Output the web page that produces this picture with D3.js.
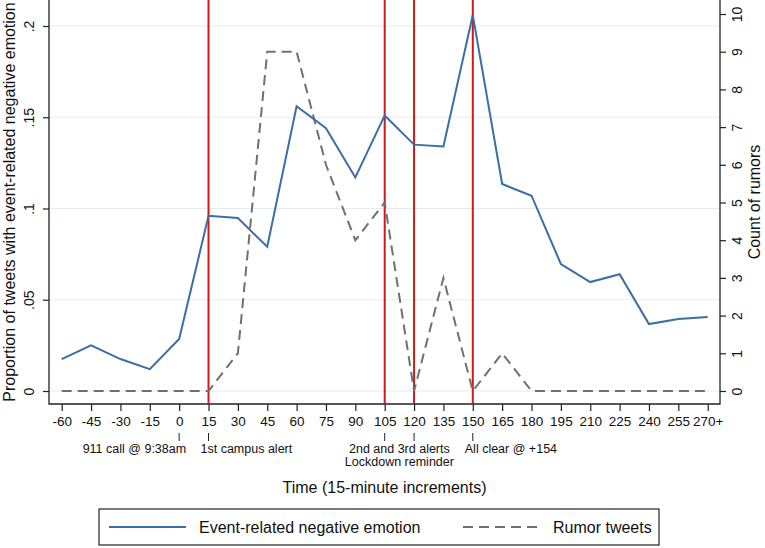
<!DOCTYPE html>
<html>
<head>
<meta charset="utf-8">
<script src="https://cdn.jsdelivr.net/npm/d3@7"></script>
<style>
  body { margin: 0; background: #fff; }
  svg { display: block; font-family: "Liberation Sans", Arial, sans-serif; }
</style>
</head>
<body>
<div id="chart"></div>
<script>
// time bins (minutes relative to 911 call)
const times = [-60, -45, -30, -15, 0, 15, 30, 45, 60, 75, 90, 105, 120, 135, 150, 165, 180, 195, 210, 225, 240, 255, 270];
const tickLabels = ['-60', '-45', '-30', '-15', '0', '15', '30', '45', '60', '75', '90', '105', '120', '135', '150', '165', '180', '195', '210', '225', '240', '255', '270+'];
const negEmotion = [0.0175, 0.025, 0.0175, 0.012, 0.0285, 0.096, 0.0948, 0.079, 0.156, 0.144, 0.117, 0.151, 0.135, 0.134, 0.206, 0.1134, 0.107, 0.0696, 0.0597, 0.064, 0.0367, 0.0395, 0.0405];
const rumors = [0, 0, 0, 0, 0, 0, 1, 9, 9, 6, 4, 5, 0, 3, 0, 1, 0, 0, 0, 0, 0, 0, 0];
const leftTicks = [0, 0.05, 0.1, 0.15, 0.2];
const leftTickLabels = ['0', '.05', '.1', '.15', '.2'];
const rightTicks = [0, 1, 2, 3, 4, 5, 6, 7, 8, 9, 10];
const eventTimes = [15, 105, 120, 150];
const markTimes = [0, 15, 105, 120, 150];
// label text, anchor time, text anchor, offset in px
const annotations = [
  { t: 0, lines: ['911 call @ 9:38am'], anchor: 'end', dx: 7 },
  { t: 15, lines: ['1st campus alert'], anchor: 'start', dx: -8 },
  { t: 112.5, lines: ['2nd and 3rd alerts', 'Lockdown reminder'], anchor: 'middle', dx: 0 },
  { t: 150, lines: ['All clear @ +154'], anchor: 'start', dx: -8 }
];

const width = 765, height = 548;
const plot = { left: 49, right: 720, top: 0, bottom: 404 };

const svg = d3.select('#chart').append('svg')
  .attr('width', width)
  .attr('height', height);

// scales
const x = d3.scaleLinear().domain([-60, 270]).range([61.7, 707.7]);
const yL = d3.scaleLinear().domain([0, 0.2]).range([391, 26]);
const yR = d3.scaleLinear().domain([0, 10]).range([391, 14]);

// gridlines
svg.append('g')
  .selectAll('line')
  .data(leftTicks)
  .join('line')
  .attr('x1', plot.left)
  .attr('x2', plot.right)
  .attr('y1', (d) => yL(d))
  .attr('y2', (d) => yL(d))
  .attr('stroke', '#e4ecf0')
  .attr('stroke-width', 1.2);

// axes
const axisStyle = (g) => {
  g.select('.domain').remove();
  g.selectAll('.tick line').attr('stroke', '#222').attr('stroke-width', 1.2);
  g.selectAll('.tick text').attr('fill', '#111').style('font-size', '13.5px').style('font-family', '"Liberation Sans", Arial, sans-serif');
};

svg.append('g')
  .attr('transform', `translate(0,${plot.bottom})`)
  .call(d3.axisBottom(x).tickValues(times).tickSize(7).tickPadding(5).tickFormat((d, i) => tickLabels[i]))
  .call(axisStyle);

svg.append('g')
  .attr('transform', `translate(${plot.left},0)`)
  .call(d3.axisLeft(yL).tickValues(leftTicks).tickSize(6).tickFormat((d, i) => leftTickLabels[i]))
  .call(axisStyle)
  .selectAll('.tick text')
  .style('font-size', '14px')
  .attr('transform', 'rotate(-90)')
  .attr('x', 0)
  .attr('y', -20)
  .attr('dy', '0.35em')
  .attr('text-anchor', 'middle');

svg.append('g')
  .attr('transform', `translate(${plot.right},0)`)
  .call(d3.axisRight(yR).tickValues(rightTicks).tickSize(6).tickFormat(d3.format('d')))
  .call(axisStyle)
  .selectAll('.tick text')
  .style('font-size', '14px')
  .attr('transform', 'rotate(-90)')
  .attr('x', 0)
  .attr('y', 17)
  .attr('dy', '0.35em')
  .attr('text-anchor', 'middle');

// frame lines (left, bottom, right)
svg.append('path')
  .attr('d', `M${plot.left},${plot.top}V${plot.bottom}H${plot.right}V${plot.top}`)
  .attr('fill', 'none')
  .attr('stroke', '#222')
  .attr('stroke-width', 1.3);

// event markers
svg.append('g')
  .selectAll('line')
  .data(eventTimes)
  .join('line')
  .attr('x1', (d) => x(d))
  .attr('x2', (d) => x(d))
  .attr('y1', plot.top)
  .attr('y2', plot.bottom)
  .attr('stroke', '#cc1a1a')
  .attr('stroke-width', 2);

// lines
const idx = d3.range(times.length);
const emoLine = d3.line().x((i) => x(times[i])).y((i) => yL(negEmotion[i]));
const rumLine = d3.line().x((i) => x(times[i])).y((i) => yR(rumors[i]));

svg.append('path')
  .datum(idx)
  .attr('fill', 'none')
  .attr('stroke', '#707070')
  .attr('stroke-width', 2)
  .attr('stroke-dasharray', '10,6')
  .attr('d', rumLine);

svg.append('path')
  .datum(idx)
  .attr('fill', 'none')
  .attr('stroke', '#3a6ea5')
  .attr('stroke-width', 2)
  .attr('d', emoLine);

// annotations under the axis
const ann = svg.append('g');
ann.selectAll('line')
  .data(markTimes)
  .join('line')
  .attr('x1', (d) => x(d)).attr('x2', (d) => x(d))
  .attr('y1', 433).attr('y2', 441)
  .attr('stroke', '#222').attr('stroke-width', 1);

annotations.forEach((a) => {
  a.lines.forEach((l, j) => {
    ann.append('text')
      .attr('x', x(a.t) + a.dx)
      .attr('y', 453 + j * 13)
      .attr('text-anchor', a.anchor)
      .style('font-size', '12.5px')
      .attr('fill', '#111')
      .text(l);
  });
});

// axis titles
svg.append('text')
  .attr('x', (plot.left + plot.right) / 2)
  .attr('y', 493)
  .attr('text-anchor', 'middle')
  .style('font-size', '16px')
  .attr('fill', '#111')
  .text('Time (15-minute increments)');

svg.append('text')
  .attr('transform', 'rotate(-90)')
  .attr('x', -202)
  .attr('y', 15)
  .attr('text-anchor', 'middle')
  .style('font-size', '16px')
  .attr('fill', '#111')
  .text('Proportion of tweets with event-related negative emotion');

svg.append('text')
  .attr('transform', 'rotate(-90)')
  .attr('x', -202)
  .attr('y', 760)
  .attr('text-anchor', 'middle')
  .style('font-size', '16px')
  .attr('fill', '#111')
  .text('Count of rumors');

// legend
const legend = svg.append('g');
legend.append('rect')
  .attr('x', 99).attr('y', 509)
  .attr('width', 560).attr('height', 36)
  .attr('fill', '#fff')
  .attr('stroke', '#222')
  .attr('stroke-width', 1.2);

legend.append('line')
  .attr('x1', 109).attr('x2', 186).attr('y1', 527).attr('y2', 527)
  .attr('stroke', '#3a6ea5').attr('stroke-width', 2);
legend.append('text')
  .attr('x', 199).attr('y', 533)
  .style('font-size', '16px').attr('fill', '#111')
  .text('Event-related negative emotion');

legend.append('line')
  .attr('x1', 463).attr('x2', 541).attr('y1', 527).attr('y2', 527)
  .attr('stroke', '#707070').attr('stroke-width', 2)
  .attr('stroke-dasharray', '10,6');
legend.append('text')
  .attr('x', 553).attr('y', 533)
  .style('font-size', '16px').attr('fill', '#111')
  .text('Rumor tweets');
</script>
</body>
</html>
